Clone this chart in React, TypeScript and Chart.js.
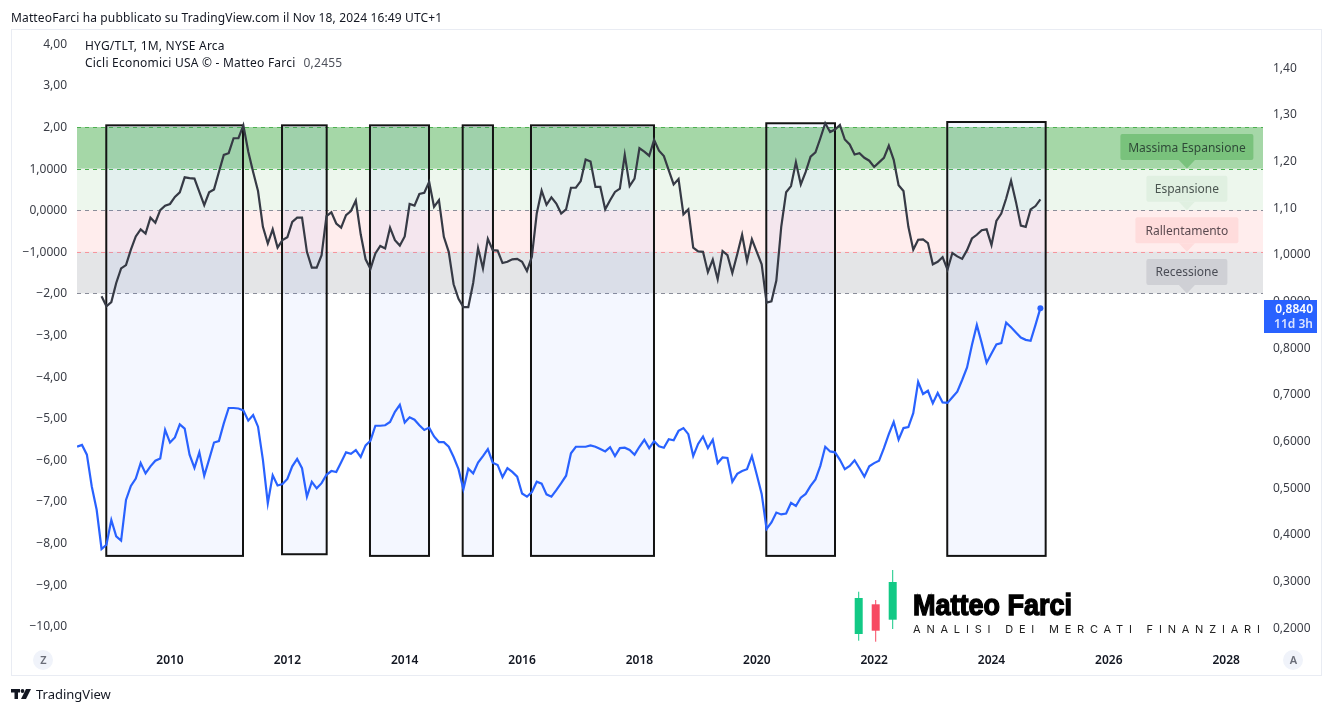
import React, { useEffect, useRef } from "react";
import { Chart, registerables } from "chart.js";

Chart.register(...registerables);

const FONT = '"Noto Sans", sans-serif';

// Monthly closes, first point June 2008
const firstYear = 2008;
const firstMonth = 5;

const ratioValues = [
  0.587, 0.591, 0.57, 0.502, 0.452, 0.368, 0.377, 0.43, 0.395, 0.386,
  0.473, 0.503, 0.519, 0.552, 0.53, 0.545, 0.557, 0.562, 0.623, 0.596,
  0.607, 0.635, 0.626, 0.57, 0.542, 0.575, 0.525, 0.56, 0.596, 0.599,
  0.637, 0.67, 0.67, 0.669, 0.665, 0.643, 0.655, 0.63, 0.559, 0.466,
  0.526, 0.504, 0.507, 0.518, 0.545, 0.561, 0.541, 0.48, 0.512, 0.498,
  0.509, 0.527, 0.535, 0.533, 0.554, 0.575, 0.572, 0.58, 0.565, 0.59,
  0.6, 0.632, 0.632, 0.633, 0.64, 0.662, 0.677, 0.639, 0.65, 0.645,
  0.633, 0.623, 0.628, 0.609, 0.597, 0.597, 0.587, 0.565, 0.539, 0.496,
  0.54, 0.53, 0.553, 0.567, 0.582, 0.553, 0.548, 0.522, 0.541, 0.533,
  0.523, 0.487, 0.48, 0.49, 0.512, 0.508, 0.485, 0.48, 0.494, 0.509,
  0.525, 0.573, 0.587, 0.587, 0.587, 0.59, 0.587, 0.582, 0.577, 0.586,
  0.567, 0.584, 0.585, 0.58, 0.57, 0.587, 0.602, 0.584, 0.599, 0.588,
  0.585, 0.603, 0.601, 0.621, 0.627, 0.614, 0.567, 0.593, 0.609, 0.584,
  0.602, 0.552, 0.564, 0.563, 0.512, 0.529, 0.535, 0.539, 0.567, 0.527,
  0.486, 0.411, 0.425, 0.446, 0.442, 0.444, 0.467, 0.46, 0.478, 0.486,
  0.503, 0.517, 0.546, 0.587, 0.577, 0.575, 0.559, 0.539, 0.546, 0.558,
  0.541, 0.523, 0.545, 0.552, 0.557, 0.584, 0.614, 0.64, 0.602, 0.627,
  0.629, 0.659, 0.726, 0.7, 0.707, 0.68, 0.702, 0.682, 0.681, 0.693,
  0.705, 0.73, 0.757, 0.805, 0.848, 0.809, 0.767, 0.787, 0.806, 0.809,
  0.853, 0.843, 0.832, 0.821, 0.816, 0.814, 0.848, 0.884,
];

const cycleValues = [
  null, null, null, null, null, -2.07, -2.31, -2.21, -1.75, -1.4,
  -1.32, -0.95, -0.63, -0.46, -0.56, -0.18, -0.3, 0, 0.11, 0.15,
  0.32, 0.43, 0.79, 0.77, 0.76, 0.44, 0.12, 0.43, 0.5, 0.92,
  1.33, 1.37, 1.73, 1.73, 2.04, 1.41, 0.92, 0.46, -0.4, -0.8,
  -0.46, -0.9, -0.72, -0.65, -0.28, -0.18, -0.18, -1.0, -1.38, -1.38,
  -1.08, -0.14, -0.05, -0.32, -0.42, -0.12, -0.02, 0.23, -0.58, -1.18,
  -1.41, -1.04, -0.86, -0.92, -0.42, -0.72, -0.85, -0.63, 0.15, 0.11,
  0.39, 0.42, 0.68, 0.08, 0.24, -0.64, -1.0, -1.78, -2.13, -2.33,
  -2.33, -1.75, -0.91, -1.4, -0.69, -0.96, -0.97, -1.27, -1.24, -1.18,
  -1.17, -1.24, -1.46, -1.12, -0.08, 0.47, 0.13, 0.31, 0.16, -0.08,
  0.02, 0.54, 0.54, 0.7, 1.22, 1.17, 0.56, 0.56, 0.02, 0.24,
  0.44, 0.52, 1.33, 0.58, 0.76, 1.49, 1.41, 1.31, 1.69, 1.43,
  1.3, 0.96, 0.62, 0.75, -0.1, 0.02, -0.9, -0.99, -1.0, -1.49,
  -1.19, -1.66, -0.98, -1.08, -1.51, -1.06, -0.59, -1.22, -0.7, -1.0,
  -1.3, -2.22, -2.19, -1.69, -0.4, 0.43, 0.58, 1.15, 0.62, 0.92,
  1.29, 1.39, 1.73, 2.09, 1.88, 1.94, 2.05, 1.7, 1.58, 1.34,
  1.37, 1.26, 1.19, 1.04, 1.15, 1.26, 1.55, 1.21, 0.6, 0.46,
  -0.4, -0.95, -0.71, -0.7, -0.79, -1.3, -1.24, -1.13, -1.43, -1.03,
  -1.11, -1.17, -0.96, -0.68, -0.59, -0.48, -0.46, -0.84, -0.26, -0.08,
  0.28, 0.71, 0.2, -0.37, -0.4, 0.02, 0.1, 0.26,
];

const yearTicks = [2010, 2012, 2014, 2016, 2018, 2020, 2022, 2024, 2026, 2028];
const leftTickValues = [4, 3, 2, 1, 0, -1, -2, -3, -4, -5, -6, -7, -8, -9, -10];
const leftTickLabels = ["4,00", "3,00", "2,00", "1,0000", "0,0000", "−1,0000", "−2,00", "−3,00", "−4,00", "−5,00", "−6,00", "−7,00", "−8,00", "−9,00", "−10,00"];
const rightTickValues = [1.4, 1.3, 1.2, 1.1, 1.0, 0.9, 0.8, 0.7, 0.6, 0.5, 0.4, 0.3, 0.2];
const rightTickLabels = ["1,40", "1,30", "1,20", "1,10", "1,0000", "0,9000", "0,8000", "0,7000", "0,6000", "0,5000", "0,4000", "0,3000", "0,2000"];

// Cycle zones on the left scale
const bandTops = [2, 1, 0, -1];
const bandBottoms = [1, 0, -1, -2];
const bandFills = ["rgba(76,175,80,0.5)", "rgba(76,175,80,0.1)", "rgba(255,82,82,0.1)", "rgba(120,123,134,0.2)"];
const bandLineLevels = [2, 1, 0, -1, -2];
const bandLineColors = ["#4caf50", "#4caf50", "#8a8d99", "#f7959c", "#8a8d99"];

const zoneNames = ["Massima Espansione", "Espansione", "Rallentamento", "Recessione"];
const zoneTipLevels = [1, 0, -1, -2];
const zoneTipYear = 2027.33;
const zoneBoxWidths = [133, 81, 103, 81];
const zoneBoxFills = ["#79c27c", "#e0f0e1", "#ffdcdc", "#cfd0d5"];
const zoneTextColors = ["#2f4a38", "#4a5550", "#5a4a50", "#4a4c55"];

// Highlighted rectangles: year span and left scale span
const boxStarts = [2008.914, 2011.909, 2013.408, 2014.988, 2016.152, 2020.162, 2023.246];
const boxEnds = [2011.244, 2012.67, 2014.414, 2015.504, 2018.248, 2021.333, 2024.923];
const boxTops = [2.04, 2.04, 2.04, 2.04, 2.04, 2.09, 2.12];
const boxBottoms = [-8.31, -8.27, -8.31, -8.31, -8.31, -8.31, -8.31];

const monthX = (i: number) => firstYear + (firstMonth + i) / 12;
const toPoints = (values: (number | null)[]) => values.map((y, i) => ({ x: monthX(i), y }));

const overlay = {
  id: "overlay",
  beforeDatasetsDraw(chart: any) {
    const { ctx, chartArea: a, scales } = chart;
    const X = scales.x;
    const Y = scales.yLeft;
    ctx.save();
    bandTops.forEach((top, i) => {
      const y0 = Y.getPixelForValue(top);
      const y1 = Y.getPixelForValue(bandBottoms[i]);
      ctx.fillStyle = bandFills[i];
      ctx.fillRect(a.left, y0, a.right - a.left, y1 - y0);
    });
    ctx.lineWidth = 1;
    ctx.setLineDash([4, 4]);
    bandLineLevels.forEach((lvl, i) => {
      const y = Math.round(Y.getPixelForValue(lvl)) + 0.5;
      ctx.strokeStyle = bandLineColors[i];
      ctx.beginPath();
      ctx.moveTo(a.left, y);
      ctx.lineTo(a.right, y);
      ctx.stroke();
    });
    ctx.setLineDash([]);
    boxStarts.forEach((s, i) => {
      const x0 = X.getPixelForValue(s);
      const x1 = X.getPixelForValue(boxEnds[i]);
      const y0 = Y.getPixelForValue(boxTops[i]);
      const y1 = Y.getPixelForValue(boxBottoms[i]);
      ctx.fillStyle = "rgba(41,98,255,0.05)";
      ctx.fillRect(x0, y0, x1 - x0, y1 - y0);
      ctx.strokeStyle = "#131313";
      ctx.lineWidth = 2;
      ctx.strokeRect(x0, y0, x1 - x0, y1 - y0);
    });
    zoneNames.forEach((name, i) => {
      const tipX = X.getPixelForValue(zoneTipYear);
      const tipY = Y.getPixelForValue(zoneTipLevels[i]);
      const w = zoneBoxWidths[i];
      const bottom = tipY - 8.5;
      const top = bottom - 26;
      ctx.fillStyle = zoneBoxFills[i];
      ctx.beginPath();
      ctx.roundRect(tipX - w / 2, top, w, 26, 2);
      ctx.fill();
      ctx.beginPath();
      ctx.moveTo(tipX - 8, bottom);
      ctx.lineTo(tipX, tipY);
      ctx.lineTo(tipX + 8, bottom);
      ctx.closePath();
      ctx.fill();
      ctx.fillStyle = zoneTextColors[i];
      ctx.font = `12px ${FONT}`;
      ctx.textAlign = "center";
      ctx.textBaseline = "middle";
      ctx.fillText(name, tipX, top + 14);
    });
    ctx.restore();
  },
  afterDraw(chart: any) {
    const { ctx, chartArea: a } = chart;
    ctx.save();
    // Frame
    ctx.strokeStyle = "#e9ecf3";
    ctx.lineWidth = 1;
    ctx.strokeRect(11.5, 29.5, 1310, 646);

    // Headers
    ctx.textAlign = "left";
    ctx.textBaseline = "middle";
    ctx.fillStyle = "#131722";
    ctx.font = `12px ${FONT}`;
    (ctx as any).letterSpacing = "0.14px";
    ctx.fillText("MatteoFarci ha pubblicato su TradingView.com il Nov 18, 2024 16:49 UTC+1", 11, 18.5);
    (ctx as any).letterSpacing = "0.22px";
    ctx.fillText("HYG/TLT, 1M, NYSE Arca", 85, 47);
    const cicli = "Cicli Economici USA © - Matteo Farci";
    ctx.fillText(cicli, 85, 64);
    ctx.fillStyle = "#4f525c";
    ctx.fillText("0,2455", 85 + ctx.measureText(cicli).width + 8, 64);
    (ctx as any).letterSpacing = "0px";

    // Price tag
    ctx.fillStyle = "#2962ff";
    ctx.fillRect(a.right + 1, 300, 53, 33);
    ctx.fillStyle = "#ffffff";
    ctx.textAlign = "right";
    ctx.font = `600 12px ${FONT}`;
    ctx.fillText("0,8840", 1313, 310);
    ctx.fillStyle = "#dbe4ff";
    ctx.fillText("11d 3h", 1313, 325);

    // Corner buttons
    [["Z", 43], ["A", 1293]].forEach(([t, x]: any) => {
      ctx.fillStyle = "#f0f3fa";
      ctx.beginPath();
      ctx.arc(x, 660, 10, 0, Math.PI * 2);
      ctx.fill();
      ctx.fillStyle = "#6a6d78";
      ctx.textAlign = "center";
      ctx.font = `600 11px ${FONT}`;
      ctx.fillText(t, x + 0.5, 661);
    });

    // Author logo
    const candles = [
      [858.7, 591.7, 640.7, 598, 634, "#12c985"],
      [875.7, 600, 641.7, 604.3, 630.7, "#f74a62"],
      [892.7, 570, 629, 582, 619.7, "#12c985"],
    ];
    candles.forEach(([cx, wt, wb, bt, bb, col]: any) => {
      ctx.fillStyle = col;
      ctx.fillRect(cx - 0.5, wt, 1, wb - wt);
      ctx.fillRect(cx - 4, bt, 8, bb - bt);
    });
    ctx.textAlign = "left";
    ctx.textBaseline = "alphabetic";
    ctx.fillStyle = "#000000";
    ctx.strokeStyle = "#000000";
    ctx.lineWidth = 1.4;
    ctx.font = 'bold 30px "Liberation Sans Narrow", "Liberation Sans", sans-serif';
    ctx.fillText("Matteo Farci", 913, 615, 159);
    ctx.strokeText("Matteo Farci", 913, 615, 159);
    ctx.fillStyle = "#222222";
    ctx.font = '11px Inter, sans-serif';
    (ctx as any).letterSpacing = "5.8px";
    ctx.fillText("ANALISI DEI MERCATI FINANZIARI", 913, 632.5);
    (ctx as any).letterSpacing = "0px";

    // TradingView footer
    ctx.fillStyle = "#131722";
    ctx.fillRect(11, 689, 9, 3.5);
    ctx.fillRect(14.5, 689, 3.5, 10);
    ctx.beginPath();
    ctx.arc(22.5, 691, 1.9, 0, Math.PI * 2);
    ctx.fill();
    ctx.beginPath();
    ctx.moveTo(26, 689);
    ctx.lineTo(31, 689);
    ctx.lineTo(26, 699);
    ctx.lineTo(21, 699);
    ctx.closePath();
    ctx.fill();
    ctx.textBaseline = "middle";
    ctx.font = `13px ${FONT}`;
    ctx.fillText("TradingView", 36, 695.5);
    ctx.restore();
  },
};

export default function App() {
  const ref = useRef<HTMLCanvasElement | null>(null);
  useEffect(() => {
    const last = ratioValues.length - 1;
    const chart = new Chart(ref.current as HTMLCanvasElement, {
      type: "line",
      data: {
        datasets: [
          {
            label: "Cicli Economici USA",
            data: toPoints(cycleValues) as any,
            yAxisID: "yLeft",
            borderColor: "#363a45",
            borderWidth: 2.2,
            pointRadius: 0,
            tension: 0,
            spanGaps: false,
          },
          {
            label: "HYG/TLT",
            data: toPoints(ratioValues) as any,
            yAxisID: "yRight",
            borderColor: "#2962ff",
            backgroundColor: "#2962ff",
            borderWidth: 2.2,
            pointRadius: (c: any) => (c.dataIndex === last ? 3 : 0),
            pointBorderWidth: 0,
            tension: 0,
          },
        ],
      },
      options: {
        responsive: false,
        animation: false,
        devicePixelRatio: 1,
        layout: { padding: { left: 11, right: 11, top: 29, bottom: 38 } },
        plugins: { legend: { display: false }, tooltip: { enabled: false }, title: { display: false } },
        scales: {
          x: {
            type: "linear",
            min: 2008.415,
            max: 2028.627,
            grid: { display: false, drawTicks: false },
            border: { display: false },
            afterBuildTicks: (s: any) => { s.ticks = yearTicks.map((value) => ({ value })); },
            afterFit: (s: any) => { s.height = 28; },
            ticks: {
              autoSkip: false,
              maxRotation: 0,
              padding: 6,
              color: "#131722",
              font: { family: FONT, size: 12, weight: "600" },
              callback: (v: any) => String(v),
            },
          },
          yLeft: {
            type: "linear",
            position: "left",
            min: -10.5,
            max: 4.356,
            grid: { display: false, drawTicks: false },
            border: { display: false },
            afterBuildTicks: (s: any) => { s.ticks = leftTickValues.map((value) => ({ value })); },
            afterFit: (s: any) => { s.width = 66; },
            ticks: {
              autoSkip: false,
              padding: 10,
              labelOffset: 0.5,
              color: "#3a3d46",
              font: { family: FONT, size: 12 },
              callback: (v: any) => leftTickLabels[leftTickValues.indexOf(v)],
            },
          },
          yRight: {
            type: "linear",
            position: "right",
            min: 0.158,
            max: 1.482,
            grid: { display: false, drawTicks: false },
            border: { display: false },
            afterBuildTicks: (s: any) => { s.ticks = rightTickValues.map((value) => ({ value })); },
            afterFit: (s: any) => { s.width = 58; },
            ticks: {
              autoSkip: false,
              padding: 10,
              labelOffset: 1,
              color: "#3a3d46",
              font: { family: FONT, size: 12 },
              callback: (v: any) => rightTickLabels[rightTickValues.indexOf(v)],
            },
          },
        },
      },
      plugins: [overlay],
    } as any);
    return () => chart.destroy();
  }, []);
  return (
    <div style={{ position: "absolute", left: 0, top: 0, width: 1332, height: 713, background: "#fff" }}>
      <canvas ref={ref} width={1332} height={713} style={{ display: "block" }} />
    </div>
  );
}
